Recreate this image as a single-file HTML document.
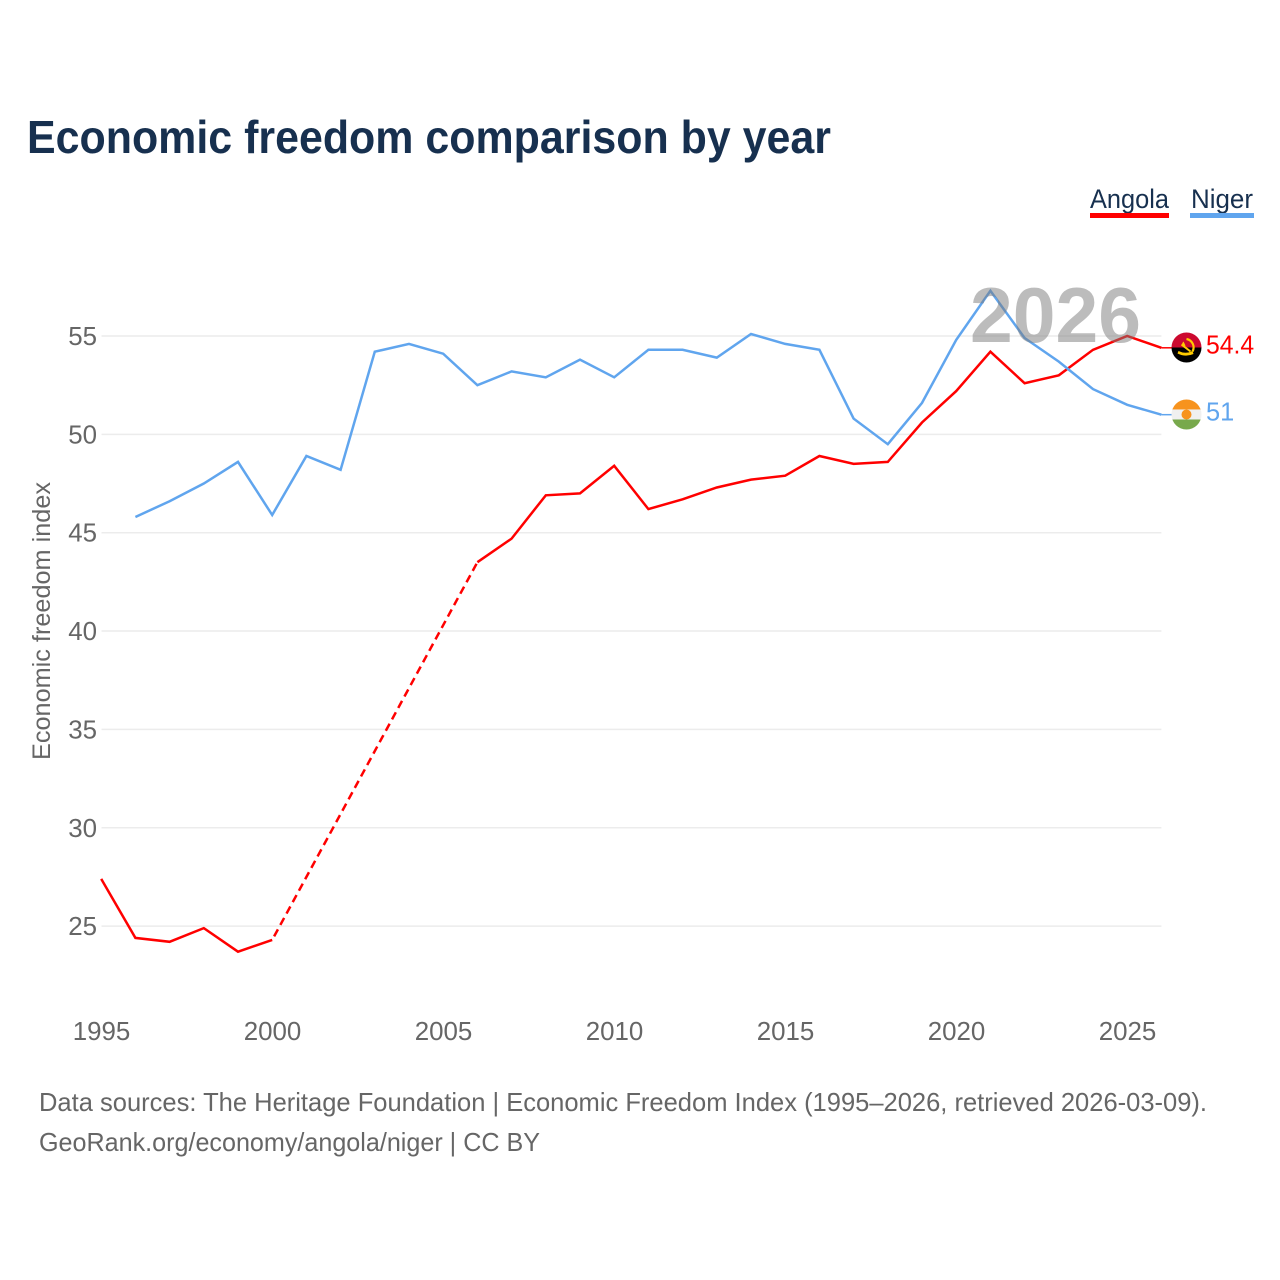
<!DOCTYPE html>
<html lang="en">
<head>
<meta charset="utf-8">
<title>Economic freedom comparison by year</title>
<style>
html,body{margin:0;padding:0;background:#fff;width:1280px;height:1280px;overflow:hidden}
svg{display:block}
text{font-family:"Liberation Sans",sans-serif}
</style>
</head>
<body>
<svg id="chart" width="1280" height="1280" viewBox="0 0 1280 1280" xmlns="http://www.w3.org/2000/svg">
<defs>
<clipPath id="flag-clip"><circle cx="0" cy="0" r="15"/></clipPath>
</defs>
<rect width="1280" height="1280" fill="#fff"/>
<text x="27" y="153" font-size="46" font-weight="700" fill="#17304f" textLength="804" lengthAdjust="spacingAndGlyphs">Economic freedom comparison by year</text>
<g>
<g>
<text x="1090" y="208" font-size="27" fill="#17304f" textLength="79" lengthAdjust="spacingAndGlyphs">Angola</text>
<rect x="1090" y="213" width="79" height="5" fill="#ff0000"/>
</g>
<g>
<text x="1191" y="208" font-size="27" fill="#17304f" textLength="62" lengthAdjust="spacingAndGlyphs">Niger</text>
<rect x="1190" y="213" width="64" height="5" fill="#60a5ee"/>
</g>
</g>
<g id="grid"></g>
<g id="y-ticks"></g>
<g id="x-ticks"></g>
<text transform="translate(50 760) rotate(-90)" font-size="25" fill="#666666" textLength="278" lengthAdjust="spacingAndGlyphs">Economic freedom index</text>
<g id="series"></g>
<text id="year-watermark" x="1055.5" y="342" text-anchor="middle" font-size="78" font-weight="700" fill="#7a7a7a" fill-opacity="0.5" textLength="171" lengthAdjust="spacingAndGlyphs">2026</text>
<g id="angola-flag" clip-path="url(#flag-clip)">
<rect x="-16" y="-16" width="32" height="16" fill="#cc092f"/>
<rect x="-16" y="0" width="32" height="16" fill="#000"/>
<path d="M0-8.5A8.5 8.5 0 0 1 6 4" fill="none" stroke="#ffcb00" stroke-width="2.2"/>
<path d="M-8 3.5Q-1 7 6 3.5L7 6.5Q-1 10-9 6Z" fill="#ffcb00"/>
<path d="M-5-3L4 4" stroke="#ffcb00" stroke-width="2"/>
<path d="M-3-6Q-6-3-3 0L-1-2Z" fill="#ffcb00"/>
</g>
<g id="niger-flag" clip-path="url(#flag-clip)">
<rect x="-16" y="-16" width="32" height="11" fill="#f7931e"/>
<rect x="-16" y="-5" width="32" height="10" fill="#f0f0f0"/>
<rect x="-16" y="5" width="32" height="11" fill="#78a94c"/>
<circle r="5" fill="#f7931e"/>
</g>
<text x="39" y="1111" font-size="26" fill="#666666" textLength="1168" lengthAdjust="spacingAndGlyphs">Data sources: The Heritage Foundation | Economic Freedom Index (1995–2026, retrieved 2026-03-09).</text>
<text x="39" y="1151" font-size="26" fill="#666666" textLength="501" lengthAdjust="spacingAndGlyphs">GeoRank.org/economy/angola/niger | CC BY</text>
</svg>
<script>
const years = [1995,1996,1997,1998,1999,2000,2001,2002,2003,2004,2005,2006,2007,2008,2009,2010,2011,2012,2013,2014,2015,2016,2017,2018,2019,2020,2021,2022,2023,2024,2025,2026];
const angolaValues = [27.4,24.4,24.2,24.9,23.7,24.3,null,null,null,null,null,43.5,44.7,46.9,47.0,48.4,46.2,46.7,47.3,47.7,47.9,48.9,48.5,48.6,50.6,52.2,54.2,52.6,53.0,54.3,55.0,54.4];
const nigerValues = [null,45.8,46.6,47.5,48.6,45.9,48.9,48.2,54.2,54.6,54.1,52.5,53.2,52.9,53.8,52.9,54.3,54.3,53.9,55.1,54.6,54.3,50.8,49.5,51.6,54.8,57.3,54.9,53.7,52.3,51.5,51.0];
const yTickValues = [25,30,35,40,45,50,55];
const xTickValues = [1995,2000,2005,2010,2015,2020,2025];

const NS = 'http://www.w3.org/2000/svg';
const xScale = function (year) { return 101.2 + (year - 1995) * 34.2; };
const yScale = function (value) { return 336 + (55 - value) * 19.67; };

function make(tag, parent, attrs, content) {
  const el = document.createElementNS(NS, tag);
  Object.keys(attrs).forEach(function (k) { el.setAttribute(k, attrs[k]); });
  if (content !== undefined) el.textContent = content;
  parent.appendChild(el);
  return el;
}
const textWidth = function (str) {
  let w = 0;
  for (const c of String(str)) w += c === '.' ? 6 : 14.4;
  return w;
};

const grid = document.getElementById('grid');
const yTicks = document.getElementById('y-ticks');
yTickValues.forEach(function (v) {
  const line = make('line', grid, {x1: 101.5, x2: xScale(2026), y1: yScale(v), y2: yScale(v), stroke: '#ececec', 'stroke-width': 1.5});
  
  
  const label = make('text', yTicks, {x: 97, y: yScale(v) + 9, 'text-anchor': 'end', 'font-size': 26, fill: '#666666', textLength: textWidth(v), lengthAdjust: 'spacingAndGlyphs'}, v);
  
  
});

const xTicks = document.getElementById('x-ticks');
xTickValues.forEach(function (y) {
  const label = make('text', xTicks, {x: xScale(y) + 0.3, y: 1040, 'text-anchor': 'middle', 'font-size': 26, fill: '#666666', textLength: textWidth(y), lengthAdjust: 'spacingAndGlyphs'}, y);
  
  
});

const seriesGroup = document.getElementById('series');
function drawSeries(values, color, key) {
  const g = make('g', seriesGroup, {});
  
  
  let solid = '';
  let dashed = '';
  let last = null;
  values.forEach(function (v, i) {
    if (v === null) return;
    const pt = xScale(years[i]).toFixed(1) + ' ' + yScale(v).toFixed(1);
    if (last === null) {
      solid += 'M' + pt;
    } else if (last === i - 1) {
      solid += 'L' + pt;
    } else {
      dashed += 'M' + xScale(years[last]).toFixed(1) + ' ' + yScale(values[last]).toFixed(1) + 'L' + pt;
      solid += 'M' + pt;
    }
    last = i;
  });
  if (dashed) {
    const d = make('path', g, {d: dashed, fill: 'none', stroke: color, 'stroke-width': 2.5, 'stroke-dasharray': '8 5', 'stroke-dashoffset': -4});
    
    
  }
  const s = make('path', g, {d: solid, fill: 'none', stroke: color, 'stroke-width': 2.5, 'stroke-linejoin': 'miter'});
  
  
  const final = values[values.length - 1];
  const connector = make('line', g, {x1: xScale(2026), x2: 1172, y1: yScale(final), y2: yScale(final), stroke: color, 'stroke-width': 1.5});
  
  
  const lbl = make('text', g, {x: 1206, y: yScale(final) + 5.8, 'font-size': 26, fill: color, textLength: textWidth(final) * 0.98, lengthAdjust: 'spacingAndGlyphs'}, final);
  
  
  return final;
}
const angolaFinal = drawSeries(angolaValues, '#ff0000', 'angola');
const nigerFinal = drawSeries(nigerValues, '#60a5ee', 'niger');
document.getElementById('angola-flag').setAttribute('transform', 'translate(1186.5 ' + (yScale(angolaFinal) - 0.3) + ')');
document.getElementById('niger-flag').setAttribute('transform', 'translate(1186.5 ' + (yScale(nigerFinal) - 0.2) + ')');
document.getElementById('year-watermark').textContent = years[years.length - 1];
</script>
</body>
</html>
